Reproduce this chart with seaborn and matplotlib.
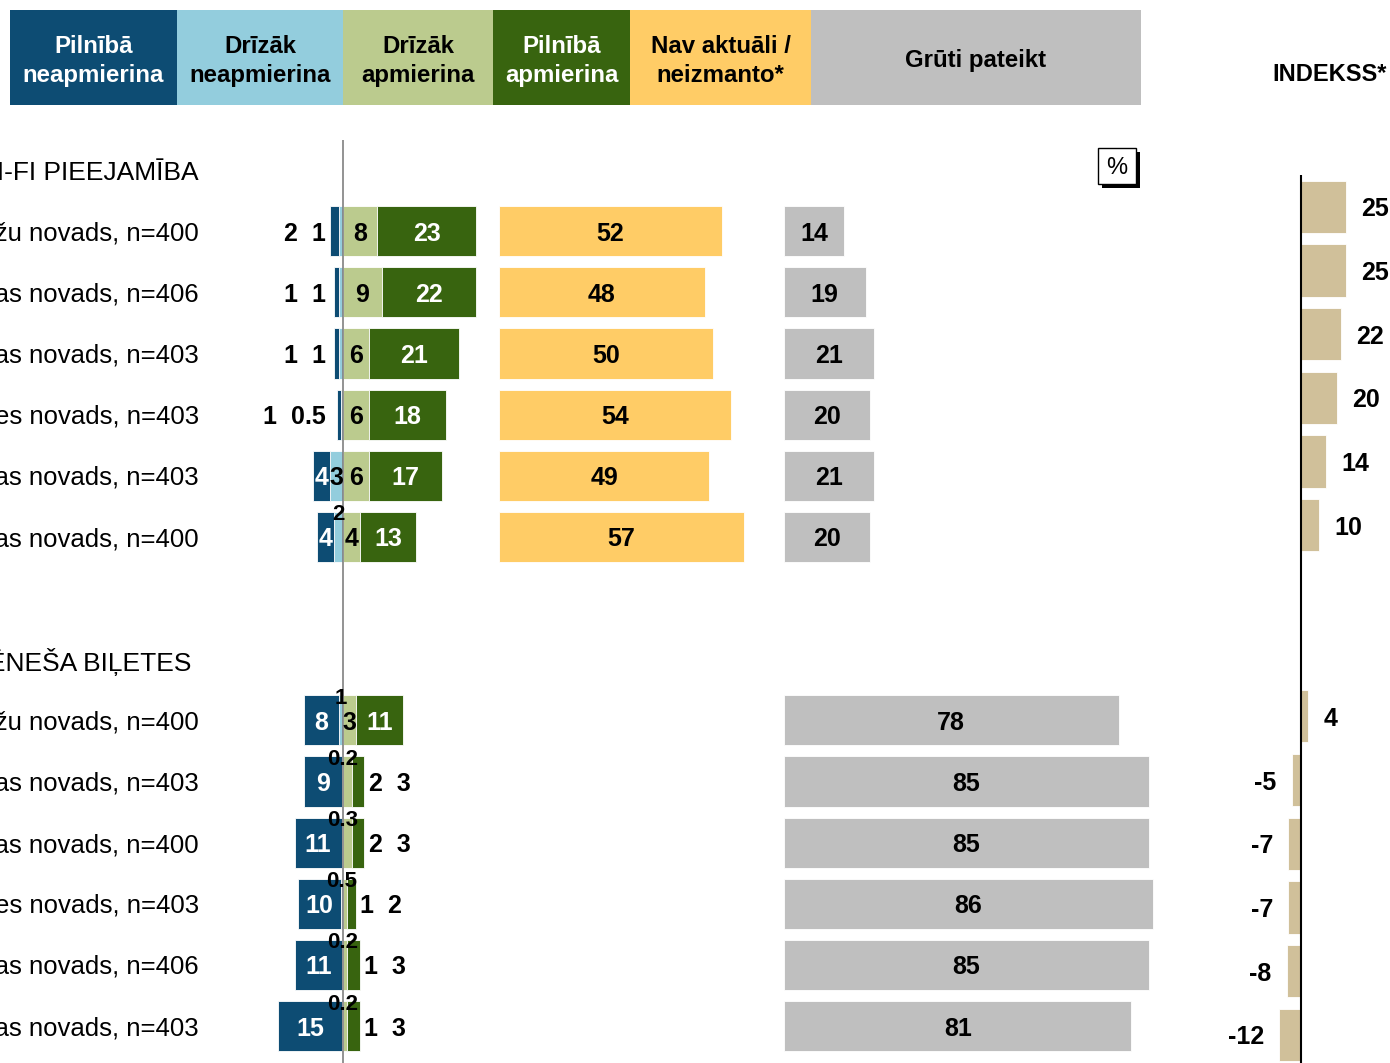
import numpy as np
import pandas as pd
import matplotlib
matplotlib.use('Agg')
import matplotlib.pyplot as plt
import matplotlib.transforms as mtransforms
from matplotlib.patches import Rectangle
import seaborn as sns

# --- dati ---
wifi_title = 'WI-FI PIEEJAMĪBA'
wifi_labels = ['Ādažu novads, n=400', 'Ķekavas novads, n=406', 'Siguldas novads, n=403',
               'Mārupes novads, n=403', 'Jelgavas novads, n=403', 'Bauskas novads, n=400']
wifi_pilnigi_neapm = [2, 1, 1, 1, 4, 4]
wifi_drizak_neapm = [1, 1, 1, 0.5, 3, 2]
wifi_drizak_apm = [8, 9, 6, 6, 6, 4]
wifi_pilnigi_apm = [23, 22, 21, 18, 17, 13]
wifi_nav_aktuali = [52, 48, 50, 54, 49, 57]
wifi_gruti = [14, 19, 21, 20, 21, 20]
wifi_indekss = [25, 25, 22, 20, 14, 10]

bil_title = 'MĒNEŠA BIĻETES'
bil_labels = ['Ādažu novads, n=400', 'Siguldas novads, n=403', 'Bauskas novads, n=400',
              'Mārupes novads, n=403', 'Ķekavas novads, n=406', 'Jelgavas novads, n=403']
bil_pilnigi_neapm = [8, 9, 11, 10, 11, 15]
bil_drizak_neapm = [1, 0.2, 0.3, 0.5, 0.2, 0.2]
bil_drizak_apm = [3, 2, 2, 1, 1, 1]
bil_pilnigi_apm = [11, 3, 3, 2, 3, 3]
bil_gruti = [78, 85, 85, 86, 85, 81]
bil_indekss = [4, -5, -7, -7, -8, -12]

legend_labels = ['Pilnībā\nneapmierina', 'Drīzāk\nneapmierina', 'Drīzāk\napmierina',
                 'Pilnībā\napmierina', 'Nav aktuāli /\nneizmanto*', 'Grūti pateikt']

C_DBLUE = '#0D4C73'
C_LBLUE = '#93CDDD'
C_LGREEN = '#BBCB8E'
C_DGREEN = '#38640F'
C_YELLOW = '#FFCC66'
C_GRAY = '#BFBFBF'
C_TAN = '#D0C09A'

sns.set_theme(style='white')
plt.rcParams['font.family'] = ['Liberation Sans', 'DejaVu Sans']
plt.rcParams['text.color'] = 'black'

W, H = 1390, 1063
fig = plt.figure(figsize=(W / 100, H / 100), dpi=100)


def px_rect(x0, y0, x1, y1):
    return [x0 / W, 1 - y1 / H, (x1 - x0) / W, (y1 - y0) / H]


def fmt(v):
    return f'{v:g}'


# pikseļu slānis virsrakstiem / leģendai
ax_px = fig.add_axes([0, 0, 1, 1])
ax_px.set_xlim(0, W)
ax_px.set_ylim(H, 0)
ax_px.set_axis_off()

box_edges = [10, 177, 343, 493, 630, 811, 1141]
box_colors = [C_DBLUE, C_LBLUE, C_LGREEN, C_DGREEN, C_YELLOW, C_GRAY]
box_text = ['white', 'black', 'black', 'white', 'black', 'black']
for i, lab in enumerate(legend_labels):
    x0, x1 = box_edges[i], box_edges[i + 1]
    ax_px.add_patch(Rectangle((x0, 10), x1 - x0, 95, facecolor=box_colors[i], edgecolor='none'))
    ax_px.text((x0 + x1) / 2, 61, lab, ha='center', va='center', color=box_text[i],
               fontsize=17.3, fontweight='bold', linespacing=1.3)

ax_px.add_patch(Rectangle((1102, 152), 38, 36, facecolor='black', edgecolor='none'))
ax_px.add_patch(Rectangle((1098, 148), 38, 36, facecolor='white', edgecolor='black', linewidth=1))
ax_px.text(1117, 166, '%', ha='center', va='center_baseline', fontsize=17)
ax_px.text(1272, 72, 'INDEKSS*', ha='left', va='center_baseline', fontsize=17, fontweight='bold')

# rindu pozīcijas
slots_wifi = np.arange(1, 7)
slots_bil = np.arange(9, 15)
ROW0, STEP = 170, 61.15
ylim_main = ((H - ROW0) / STEP, (140 - ROW0) / STEP)
ZERO_X, SCALE = 343, 4.29
BAR_H = 0.82

ax_div = fig.add_axes(px_rect(250, 140, 495, H))
ax_yel = fig.add_axes(px_rect(499, 140, 780, H))
ax_gray = fig.add_axes(px_rect(784, 140, 1180, H))
for ax in (ax_div, ax_yel, ax_gray):
    ax.set_axis_off()

# diverģējošie stabiņi
groups = [
    (slots_wifi, wifi_pilnigi_neapm, wifi_drizak_neapm, wifi_drizak_apm, wifi_pilnigi_apm),
    (slots_bil, bil_pilnigi_neapm, bil_drizak_neapm, bil_drizak_apm, bil_pilnigi_apm),
]
kw = dict(height=BAR_H, edgecolor='white', linewidth=0.6)
lab_kw = dict(fontsize=18, fontweight='bold', va='center_baseline', clip_on=False)
for slots, db, lb, lg, dg in groups:
    db, lb, lg, dg = map(np.array, (db, lb, lg, dg))
    ax_div.barh(slots, -lb, color=C_LBLUE, **kw)
    ax_div.barh(slots, -db, left=-lb, color=C_DBLUE, **kw)
    ax_div.barh(slots, lg, color=C_LGREEN, **kw)
    ax_div.barh(slots, dg, left=lg, color=C_DGREEN, **kw)
    for s, a, b, c, d in zip(slots, db, lb, lg, dg):
        # negatīvā puse
        if a < 3:
            ax_div.text(-4, s, f'{fmt(a)}  {fmt(b)}', ha='right', color='black', **lab_kw)
        else:
            ax_div.text(-b - a / 2, s, fmt(a), ha='center', color='white', **lab_kw)
            if b >= 3:
                ax_div.text(-b / 2, s, fmt(b), ha='center', color='black', **lab_kw)
            else:
                ax_div.text(-b / 2, s - 0.4, fmt(b), ha='center', color='black',
                            fontsize=16, fontweight='bold', va='center_baseline', clip_on=False)
        # pozitīvā puse
        if c < 3:
            ax_div.text(c + d + 1, s, f'{fmt(c)}  {fmt(d)}', ha='left', color='black', **lab_kw)
        else:
            ax_div.text(c / 2, s, fmt(c), ha='center', color='black', **lab_kw)
            ax_div.text(c + d / 2, s, fmt(d), ha='center', color='white', **lab_kw)

ax_div.axvline(0, color='#808080', linewidth=1.2)

# nav aktuāli un grūti pateikt
df_yel = pd.DataFrame({'slot': slots_wifi, 'val': wifi_nav_aktuali})
sns.barplot(data=df_yel, x='val', y='slot', orient='y', native_scale=True, color=C_YELLOW,
            saturation=1, width=BAR_H, errorbar=None, edgecolor='white', linewidth=0.6, ax=ax_yel)
df_gray = pd.DataFrame({'slot': np.concatenate([slots_wifi, slots_bil]),
                        'val': wifi_gruti + bil_gruti})
sns.barplot(data=df_gray, x='val', y='slot', orient='y', native_scale=True, color=C_GRAY,
            saturation=1, width=BAR_H, errorbar=None, edgecolor='white', linewidth=0.6, ax=ax_gray)
for ax, df in ((ax_yel, df_yel), (ax_gray, df_gray)):
    for s, v in zip(df['slot'], df['val']):
        ax.text(v / 2, s, fmt(v), ha='center', color='black', **lab_kw)

ax_div.set_xlim((250 - ZERO_X) / SCALE, (495 - ZERO_X) / SCALE)
ax_yel.set_xlim(0, (780 - 499) / SCALE)
ax_gray.set_xlim(0, (1180 - 784) / SCALE)
for ax in (ax_div, ax_yel, ax_gray):
    ax.set_ylim(*ylim_main)
    ax.set_axis_off()

# rindu nosaukumi un sadaļu virsraksti
trans = mtransforms.blended_transform_factory(fig.transFigure, ax_div.transData)
ax_div.text(199 / W, 0, wifi_title, transform=trans, ha='right', va='center_baseline',
            fontsize=19, clip_on=False)
ax_div.text(191 / W, 8, bil_title, transform=trans, ha='right', va='center_baseline',
            fontsize=19, clip_on=False)
for slots, labels in ((slots_wifi, wifi_labels), (slots_bil, bil_labels)):
    for s, lab in zip(slots, labels):
        ax_div.text(199 / W, s, lab, transform=trans, ha='right', va='center_baseline',
                    fontsize=18.5, clip_on=False)

# indekss
IDX0, ISTEP, IZERO, ISCALE = 143, 63.7, 1301, 1.8
ax_idx = fig.add_axes(px_rect(1230, 175, W, H))
df_idx = pd.DataFrame({'slot': np.concatenate([slots_wifi, slots_bil]),
                       'val': wifi_indekss + bil_indekss})
sns.barplot(data=df_idx, x='val', y='slot', orient='y', native_scale=True, color=C_TAN,
            saturation=1, width=BAR_H, errorbar=None, edgecolor='white', linewidth=0.6, ax=ax_idx)
for s, v in zip(df_idx['slot'], df_idx['val']):
    off = 11 if v >= 0 else -11
    ax_idx.annotate(fmt(v), (v, s), xytext=(off, 0), textcoords='offset points',
                    ha='left' if v >= 0 else 'right', va='center_baseline', fontsize=18,
                    fontweight='bold', annotation_clip=False)
ax_idx.set_xlim((1230 - IZERO) / ISCALE, (W - IZERO) / ISCALE)
ax_idx.set_ylim((H - IDX0) / ISTEP, (175 - IDX0) / ISTEP)
ax_idx.axvline(0, color='black', linewidth=1.5)
ax_idx.set_axis_off()

fig.savefig('out.png', dpi=100)
plt.close(fig)
